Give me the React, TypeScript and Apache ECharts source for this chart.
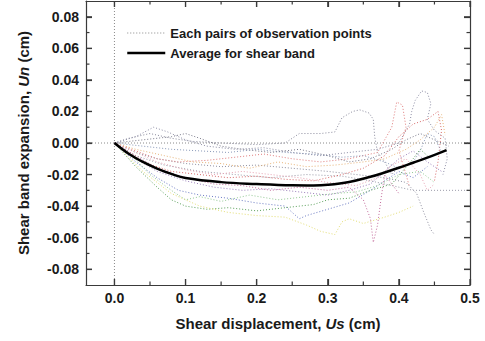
import React, { useEffect, useRef } from "react";
import * as echarts from "echarts";

const X_MIN = -0.04;
const X_MAX = 0.5;
const Y_MIN = -0.09;
const Y_MAX = 0.09;

const xMajorTicks = [0, 0.1, 0.2, 0.3, 0.4, 0.5];
const xMinorTicks = [0.05, 0.15, 0.25, 0.35, 0.45];
const yMajorTicks = [-0.08, -0.06, -0.04, -0.02, 0, 0.02, 0.04, 0.06, 0.08];
const yMinorTicks = [-0.07, -0.05, -0.03, -0.01, 0.01, 0.03, 0.05, 0.07];

const PAIRS_NAME = "Each pairs of observation points";
const AVG_NAME = "Average for shear band";

// Average curve (Us, Un) in cm
const averageCurve: number[][] = [
  [0, 0], [0.02, -0.0068], [0.04, -0.012], [0.06, -0.0162], [0.08, -0.0196],
  [0.1, -0.0222], [0.15, -0.0248], [0.2, -0.026], [0.25, -0.0268], [0.28, -0.0269],
  [0.3, -0.0265], [0.33, -0.0247], [0.36, -0.0214], [0.38, -0.0187], [0.4, -0.0157],
  [0.42, -0.0125], [0.44, -0.0093], [0.467, -0.0045],
];

// Individual observation-pair curves
const pairA: number[][] = [
  [0, 0], [0.02, 0.003], [0.05, 0.006], [0.08, 0.003], [0.11, 0.001], [0.15, 0.0],
  [0.2, -0.001], [0.24, 0.0], [0.26, 0.006], [0.29, 0.006], [0.31, 0.007], [0.32, 0.016],
  [0.335, 0.02], [0.345, 0.021], [0.358, 0.019], [0.364, 0.015], [0.366, 0.004],
  [0.37, -0.006], [0.38, -0.012], [0.39, -0.02], [0.4, -0.015],
];
const pairB: number[][] = [
  [0, 0], [0.03, 0.004], [0.055, 0.01], [0.075, 0.007], [0.1, 0.002], [0.13, -0.002],
  [0.17, -0.004], [0.21, -0.003], [0.25, -0.006], [0.29, -0.008], [0.33, -0.006],
  [0.37, -0.004], [0.4, 0.0], [0.415, 0.012], [0.418, 0.02], [0.423, 0.027],
  [0.432, 0.033], [0.44, 0.032], [0.445, 0.025], [0.44, 0.015], [0.45, 0.008],
  [0.465, 0.003], [0.468, -0.01], [0.462, -0.02],
];
const pairC: number[][] = [
  [0, 0], [0.03, -0.006], [0.06, -0.01], [0.1, -0.013], [0.15, -0.015], [0.2, -0.014],
  [0.25, -0.016], [0.3, -0.018], [0.34, -0.02], [0.38, -0.022], [0.41, -0.025],
  [0.425, -0.032], [0.435, -0.044], [0.445, -0.055], [0.45, -0.058],
];
const pairD: number[][] = [
  [0, 0], [0.03, -0.008], [0.07, -0.014], [0.12, -0.018], [0.17, -0.02], [0.22, -0.022],
  [0.27, -0.02], [0.32, -0.021], [0.36, -0.024], [0.39, -0.027], [0.42, -0.03],
  [0.46, -0.03], [0.5, -0.03],
];
const pairE: number[][] = [
  [0, 0], [0.03, -0.005], [0.06, -0.01], [0.09, -0.012], [0.13, -0.011], [0.17, -0.009],
  [0.21, -0.007], [0.25, -0.01], [0.29, -0.012], [0.33, -0.01], [0.37, -0.006],
  [0.39, 0.01], [0.397, 0.026], [0.405, 0.024], [0.41, 0.01], [0.4, -0.005],
  [0.41, -0.02], [0.415, -0.028],
];
const pairF: number[][] = [
  [0, 0], [0.04, -0.012], [0.08, -0.018], [0.12, -0.02], [0.16, -0.022], [0.2, -0.021],
  [0.24, -0.023], [0.28, -0.024], [0.32, -0.02], [0.35, -0.016], [0.38, -0.008],
  [0.4, 0.004], [0.42, 0.012], [0.44, 0.015], [0.455, 0.02], [0.46, 0.008],
  [0.455, -0.012], [0.45, -0.024],
];
const pairG: number[][] = [
  [0, 0], [0.03, -0.01], [0.06, -0.018], [0.1, -0.024], [0.14, -0.028], [0.18, -0.03],
  [0.22, -0.029], [0.26, -0.031], [0.3, -0.033], [0.33, -0.03], [0.36, -0.026],
  [0.38, -0.018], [0.4, -0.01], [0.42, -0.005], [0.44, -0.012], [0.46, -0.018],
];
const pairH: number[][] = [
  [0, 0], [0.03, -0.012], [0.06, -0.022], [0.09, -0.03], [0.12, -0.033], [0.16, -0.035],
  [0.2, -0.038], [0.24, -0.04], [0.26, -0.048], [0.27, -0.046], [0.3, -0.042],
  [0.33, -0.038], [0.36, -0.03], [0.38, -0.024], [0.4, -0.018], [0.42, -0.022],
  [0.44, -0.015],
];
const pairI: number[][] = [
  [0, 0], [0.03, -0.015], [0.06, -0.028], [0.08, -0.036], [0.1, -0.04], [0.13, -0.042],
  [0.16, -0.041], [0.2, -0.043], [0.24, -0.041], [0.28, -0.039], [0.3, -0.036],
  [0.33, -0.035], [0.36, -0.03], [0.39, -0.026], [0.42, -0.01], [0.43, -0.004],
  [0.44, -0.008],
];
const pairJ: number[][] = [
  [0, 0], [0.04, -0.018], [0.08, -0.032], [0.12, -0.04], [0.16, -0.044], [0.2, -0.046],
  [0.24, -0.047], [0.27, -0.052], [0.29, -0.056], [0.31, -0.058], [0.32, -0.05],
  [0.33, -0.048], [0.35, -0.051], [0.38, -0.047], [0.4, -0.044], [0.42, -0.04],
];
const pairK: number[][] = [
  [0, 0], [0.03, -0.004], [0.07, -0.008], [0.11, -0.012], [0.15, -0.013], [0.19, -0.016],
  [0.23, -0.012], [0.27, -0.015], [0.31, -0.014], [0.35, -0.012], [0.38, -0.01],
  [0.41, -0.004], [0.43, 0.002], [0.45, 0.01], [0.46, 0.018], [0.465, 0.005],
];
const pairL: number[][] = [
  [0, 0], [0.03, -0.008], [0.06, -0.016], [0.1, -0.022], [0.14, -0.026], [0.18, -0.027],
  [0.22, -0.03], [0.26, -0.028], [0.3, -0.03], [0.33, -0.028], [0.35, -0.036],
  [0.36, -0.048], [0.364, -0.063], [0.37, -0.052], [0.375, -0.035], [0.38, -0.02],
  [0.39, -0.026], [0.4, -0.032],
];
const pairM: number[][] = [
  [0, 0], [0.02, -0.006], [0.05, -0.02], [0.08, -0.03], [0.1, -0.036], [0.12, -0.034],
  [0.15, -0.037], [0.19, -0.033], [0.23, -0.036], [0.27, -0.034], [0.31, -0.032],
  [0.34, -0.031], [0.37, -0.027], [0.4, -0.02], [0.43, -0.018], [0.45, -0.025],
];
const pairN: number[][] = [
  [0, 0], [0.04, -0.002], [0.08, -0.004], [0.12, -0.005], [0.16, -0.006], [0.2, -0.004],
  [0.24, -0.006], [0.28, -0.007], [0.32, -0.009], [0.35, -0.008], [0.38, -0.012],
  [0.4, -0.016], [0.42, -0.012], [0.43, -0.005], [0.44, 0.006], [0.45, 0.004],
  [0.46, -0.006],
];
const pairO: number[][] = [
  [0, 0], [0.03, -0.006], [0.06, -0.012], [0.1, -0.017], [0.14, -0.02], [0.18, -0.018],
  [0.22, -0.02], [0.26, -0.022], [0.3, -0.025], [0.34, -0.027], [0.37, -0.022],
  [0.39, -0.014], [0.41, -0.01], [0.43, -0.02], [0.44, -0.03], [0.45, -0.026],
];
const pairP: number[][] = [
  [0, 0], [0.04, 0.002], [0.08, 0.004], [0.1, 0.006], [0.12, 0.003], [0.15, -0.002],
  [0.18, -0.004], [0.22, -0.006], [0.26, -0.004], [0.3, -0.008], [0.33, -0.012],
  [0.36, -0.01], [0.39, -0.004], [0.41, 0.002], [0.43, 0.006], [0.45, 0.002],
  [0.47, -0.002],
];

const pairCurves: number[][][] = [
  pairA, pairB, pairC, pairD, pairE, pairF, pairG, pairH,
  pairI, pairJ, pairK, pairL, pairM, pairN, pairO, pairP,
];
const pairColors = [
  "#8a8a9c", "#8c8ca4", "#9090a0", "#9a9aa8", "#e07c7c", "#d86a6a", "#9c80bc", "#6c7cc4",
  "#5aa05a", "#e4de74", "#e8b478", "#c46c9c", "#92c892", "#8898b8", "#e8a4b4", "#7a7a8a",
];

const FONT = "'Liberation Sans', Arial, Helvetica, sans-serif";
const AXIS_COLOR = "#3a3a3a";
const TEXT_COLOR = "#1a1a1a";
const MAJOR_LEN = 6;
const MINOR_LEN = 3.5;

export default function App() {
  const ref = useRef<HTMLDivElement>(null);

  useEffect(() => {
    if (!ref.current) return;
    const chart = echarts.init(ref.current, undefined, { renderer: "svg" });

    const mkX = (position: string, showLabel: boolean, extra: any = {}) => ({
      type: "value",
      position,
      min: X_MIN,
      max: X_MAX,
      splitLine: { show: false },
      axisLine: { show: true, onZero: false, lineStyle: { color: AXIS_COLOR, width: 1.2 } },
      axisTick: { show: true, inside: true, length: MAJOR_LEN, customValues: xMajorTicks, lineStyle: { color: AXIS_COLOR, width: 1.2 } },
      axisLabel: {
        show: showLabel,
        customValues: xMajorTicks,
        margin: 6,
        fontFamily: FONT,
        fontSize: 14,
        fontWeight: "bold",
        color: TEXT_COLOR,
        formatter: (v: number) => v.toFixed(1),
      },
      ...extra,
    });
    const mkY = (position: string, showLabel: boolean, extra: any = {}) => ({
      type: "value",
      position,
      min: Y_MIN,
      max: Y_MAX,
      splitLine: { show: false },
      axisLine: { show: true, onZero: false, lineStyle: { color: AXIS_COLOR, width: 1.2 } },
      axisTick: { show: true, inside: true, length: MAJOR_LEN, customValues: yMajorTicks, lineStyle: { color: AXIS_COLOR, width: 1.2 } },
      axisLabel: {
        show: showLabel,
        customValues: yMajorTicks,
        margin: 7,
        fontFamily: FONT,
        fontSize: 14,
        fontWeight: "bold",
        color: TEXT_COLOR,
        formatter: (v: number) => v.toFixed(2),
      },
      ...extra,
    });

    const pairSeries = pairCurves.map((pts, i) => ({
      type: "line",
      name: PAIRS_NAME,
      xAxisIndex: 0,
      yAxisIndex: 0,
      data: pts,
      symbol: "none",
      silent: true,
      z: 2,
      lineStyle: { width: 1, type: [1, 2], color: pairColors[i] },
      itemStyle: { color: pairColors[i] },
    }));

    // tick marks on all four sides, positioned through the axes' own scales
    const xTickData = [
      ...xMajorTicks.map((v) => [v, MAJOR_LEN]),
      ...xMinorTicks.map((v) => [v, MINOR_LEN]),
    ];
    const yTickData = [
      ...yMajorTicks.map((v) => [MAJOR_LEN, v]),
      ...yMinorTicks.map((v) => [MINOR_LEN, v]),
    ];

    const nameStyle = {
      fontFamily: FONT,
      fontSize: 15,
      fontWeight: "bold",
      color: TEXT_COLOR,
      rich: { i: { fontFamily: FONT, fontSize: 15, fontWeight: "bold", fontStyle: "italic", color: TEXT_COLOR } },
    };

    const option: any = {
      animation: false,
      grid: { left: 86, right: 15, top: 1, bottom: 56, containLabel: false, outerBoundsMode: "none" },
      xAxis: [
        mkX("bottom", true, {
          name: "Shear displacement, {i|Us} (cm)",
          nameLocation: "middle",
          nameGap: 31,
          nameTextStyle: nameStyle,
        }),
        mkX("top", false),
      ],
      yAxis: [
        mkY("left", true, {
          name: "Shear band expansion, {i|Un} (cm)",
          nameLocation: "middle",
          nameGap: 55,
          nameTextStyle: nameStyle,
        }),
        mkY("right", false),
      ],
      legend: {
        orient: "vertical",
        left: 121,
        top: 21,
        itemWidth: 38,
        itemHeight: 14,
        itemGap: 6,
        selectedMode: false,
        textStyle: { fontFamily: FONT, fontSize: 13, fontWeight: "bold", color: TEXT_COLOR, lineHeight: 14 },
        data: [
          { name: PAIRS_NAME, itemStyle: { color: "#888", opacity: 0 }, lineStyle: { color: "#888", width: 1.2, type: [1, 2] } },
          { name: AVG_NAME, itemStyle: { color: "#000", opacity: 0 }, lineStyle: { color: "#000", width: 2.5, type: "solid" } },
        ],
      },
      series: [
        {
          type: "line",
          name: "zeroV",
          data: [[0, Y_MIN], [0, Y_MAX]],
          symbol: "none",
          silent: true,
          z: 1,
          lineStyle: { width: 1, type: [1, 2], color: "#8a8a8a" },
        },
        {
          type: "line",
          name: "zeroH",
          data: [[X_MIN, 0], [X_MAX, 0]],
          symbol: "none",
          silent: true,
          z: 1,
          lineStyle: { width: 1, type: [1, 2], color: "#8a8a8a" },
        },
        ...pairSeries,
        {
          type: "line",
          name: AVG_NAME,
          data: averageCurve,
          symbol: "none",
          smooth: 0.4,
          silent: true,
          z: 5,
          lineStyle: { width: 2.5, color: "#000" },
          itemStyle: { color: "#000" },
        },
        {
          type: "custom",
          name: "xTicks",
          coordinateSystem: "cartesian2d",
          clip: false,
          silent: true,
          z: 6,
          data: xTickData,
          renderItem: (_p: any, api: any) => {
            const v = api.value(0);
            const len = api.value(1);
            const b = api.coord([v, Y_MIN]);
            const t = api.coord([v, Y_MAX]);
            return {
              type: "group",
              children: [
                { type: "line", shape: { x1: b[0], y1: b[1], x2: b[0], y2: b[1] - len }, style: { stroke: AXIS_COLOR, lineWidth: 1.2 } },
                { type: "line", shape: { x1: t[0], y1: t[1], x2: t[0], y2: t[1] + len }, style: { stroke: AXIS_COLOR, lineWidth: 1.2 } },
              ],
            };
          },
        },
        {
          type: "custom",
          name: "yTicks",
          coordinateSystem: "cartesian2d",
          clip: false,
          silent: true,
          z: 6,
          data: yTickData,
          renderItem: (_p: any, api: any) => {
            const len = api.value(0);
            const v = api.value(1);
            const l = api.coord([X_MIN, v]);
            const r = api.coord([X_MAX, v]);
            return {
              type: "group",
              children: [
                { type: "line", shape: { x1: l[0], y1: l[1], x2: l[0] + len, y2: l[1] }, style: { stroke: AXIS_COLOR, lineWidth: 1.2 } },
                { type: "line", shape: { x1: r[0], y1: r[1], x2: r[0] - len, y2: r[1] }, style: { stroke: AXIS_COLOR, lineWidth: 1.2 } },
              ],
            };
          },
        },
      ],
    };

    chart.setOption(option);
    return () => chart.dispose();
  }, []);

  return (
    <div
      ref={ref}
      style={{ position: "fixed", left: 0, top: 0, width: 485, height: 341, background: "#fff" }}
    />
  );
}
